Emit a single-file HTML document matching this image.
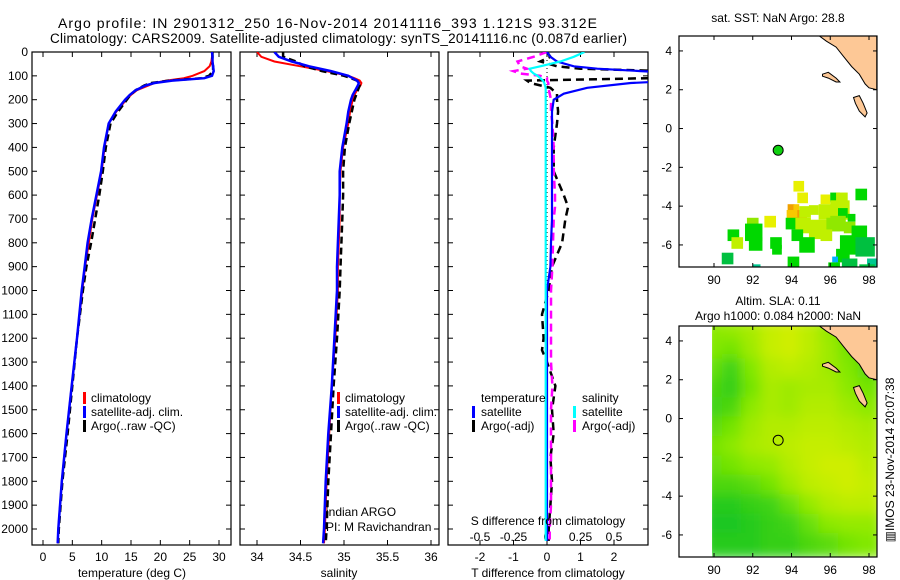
<!DOCTYPE html>
<html><head><meta charset="utf-8"><style>
html,body{margin:0;padding:0;background:#fff;width:900px;height:580px;overflow:hidden}
svg{display:block;font-family:"Liberation Sans",sans-serif}
text{font-size:12px;fill:#000}
</style></head><body>
<svg id="fig" width="900" height="580" viewBox="0 0 900 580">
<text x="58" y="28" style="font-size:14px" textLength="539">Argo profile: IN 2901312_250 16-Nov-2014 20141116_393 1.121S 93.312E</text>
<text x="50" y="43" style="font-size:13.5px" textLength="577">Climatology: CARS2009. Satellite-adjusted climatology: synTS_20141116.nc (0.087d earlier)</text>
</svg>
<script>
// ---------- data ----------
const depthTS = [0,20,40,60,80,100,110,120,130,140,160,180,200,250,300,400,500,600,700,800,900,1000,1200,1400,1600,1800,2000,2060];
const tempClim = [28.8,28.8,28.7,28.4,27.5,25.5,24,21,19,18,16,15,14.2,12.5,11.2,10.5,10,9.2,8.4,7.8,7.2,6.7,5.8,4.9,4.0,3.2,2.6,2.5];
const tempSat  = [28.8,28.9,28.9,29.0,29.1,28.8,27.5,22,19,17.5,15.8,14.8,14.0,12.4,11.2,10.4,9.9,9.1,8.3,7.6,7.1,6.6,5.8,4.9,4.0,3.2,2.6,2.5];
const tempArgo = [28.9,28.9,28.8,29.0,29.0,28.3,27.0,21.5,18.5,17.3,15.8,14.9,14.3,12.8,11.5,10.7,10.2,9.6,8.9,8.2,7.4,6.8,5.8,5.0,4.2,3.3,2.7,2.6];
const salClim = [34.0,34.05,34.2,34.5,34.8,35.05,35.12,35.18,35.2,35.19,35.15,35.12,35.1,35.07,35.05,34.99,34.96,34.95,34.95,34.94,34.93,34.93,34.9,34.86,34.83,34.8,34.78,34.77];
const salSat  = [34.2,34.25,34.4,34.6,34.85,35.05,35.1,35.15,35.17,35.16,35.13,35.1,35.08,35.05,35.03,34.98,34.95,34.95,34.94,34.93,34.92,34.92,34.89,34.86,34.82,34.79,34.77,34.76];
const salArgo = [34.3,34.3,34.45,34.55,34.75,35.0,35.08,35.15,35.18,35.18,35.16,35.14,35.12,35.09,35.06,35.01,34.99,34.99,34.98,34.97,34.96,34.95,34.92,34.88,34.85,34.82,34.8,34.79];

const depthD = [0,20,40,60,70,80,90,100,110,120,130,150,175,200,250,300,400,500,600,650,700,800,900,1000,1100,1200,1250,1300,1400,1500,1600,1700,1800,1900,2000,2050];
const dTsat  = [0,0.1,0.3,0.8,1.5,2.8,4,5,5,4,2.5,1.2,0.5,0.2,0.15,0.15,0.15,0.15,0.15,0.15,0.15,0.12,0.1,0,0,0,0,0,0,0,0,0,0,0,0,0];
const dTargo = [0,0.1,-0.2,0.3,1,3.5,5,5,3,-0.6,-0.5,0.1,0.3,0.3,0.33,0.3,0.2,0.2,0.5,0.63,0.55,0.45,0.15,0.05,-0.15,-0.1,-0.15,0,0.25,0.15,0.2,0.1,0.15,0.1,0.05,0.05];
const dSsat  = [0.28,0.2,0.1,-0.05,-0.13,-0.12,-0.1,-0.07,-0.05,-0.03,-0.02,-0.01,-0.01,-0.01,-0.01,-0.01,-0.01,-0.01,-0.01,-0.01,-0.01,-0.01,-0.01,-0.01,-0.01,-0.01,-0.01,-0.01,-0.01,-0.01,-0.01,-0.01,-0.01,-0.01,-0.01,-0.01];
const dSargo = [0,-0.1,-0.22,-0.2,-0.15,-0.25,-0.2,-0.05,0,0,0.01,0.01,0.02,0.03,0.03,0.04,0.05,0.05,0.06,0.06,0.05,0.045,0.04,0.03,0.03,0.03,0.03,0.03,0.04,0.03,0.03,0.03,0.03,0.03,0.02,0.02];

const depthTicks = [0,100,200,300,400,500,600,700,800,900,1000,1100,1200,1300,1400,1500,1600,1700,1800,1900,2000];
const tempTicks = [0,5,10,15,20,25,30];
const salTicks = [34,34.5,35,35.5,36];
const salTickLabels = ["34","34.5","35","35.5","36"];
const dTTicks = [-2,-1,0,1,2];
const dSTicks = [-0.5,-0.25,0,0.25,0.5];
const dSTickLabels = ["-0.5","-0.25","0","0.25","0.5"];
const lonTicks = [90,92,94,96,98];
const latTicks = [4,2,0,-2,-4,-6];

const argoLon = 93.312, argoLat = -1.121;
const sstLon  = [94.1,94.3,93.8,94.1,93.75,94.3,94.4,94.9,95.5,95.4,96.0,96.3,96.0,96.4,96.0,96.9,97.3,93.7,94.2,94.9,95.8,92.6,91.7,91.6,90.7,90.9,91.8,92.9,93.0,94.0,94.4,95.5,96.7,97.1,96.5,97.3,96.3,96.1,96.6,97.9,97.5,90.4,93.8,92.0,95.9];
const sstLat  = [-2.7,-3.3,-3.9,-3.9,-4.2,-4.2,-4.0,-3.95,-3.4,-3.9,-3.3,-3.3,-3.7,-4.1,-4.5,-4.4,-3.1,-4.6,-4.6,-4.7,-4.6,-4.5,-4.6,-4.9,-5.2,-5.6,-5.6,-5.6,-6.0,-5.2,-5.6,-5.2,-4.8,-5.0,-5.5,-5.6,-6.2,-6.6,-6.7,-6.7,-7.0,-6.4,-6.6,-7.0,-6.9];
const sstSize = [0.55,0.55,0.35,0.3,0.6,0.5,0.6,0.5,0.5,0.8,0.5,0.6,1.0,0.5,0.8,0.4,0.6,0.6,0.8,1.0,0.7,0.6,0.6,0.9,0.6,0.6,0.7,0.6,0.5,0.6,0.8,0.6,0.6,0.8,1.0,1.0,0.7,0.3,0.8,0.5,0.8,0.6,0.6,0.4,0.6];
const sstCls  = [2,2,0,1,1,0,3,3,2,3,5,3,3,5,4,5,5,5,3,3,4,2,4,5,5,3,5,5,5,5,5,3,4,5,5,6,5,8,6,7,6,6,5,7,5];
const slaLats = [4.5,3.5,2.5,1.5,0.5,-0.5,-1.5,-2.5,-3.5,-4.5,-5.5,-6.5];
const slaLons = [90,91,92,93,94,95,96,97,98];
const slaRows = [
[.55,.6,.7,.85,.9,.8,.6,.4,.3],
[.5,.45,.65,.85,.9,.8,.65,.45,.3],
[.4,.25,.5,.75,.8,.75,.65,.5,.35],
[.3,.2,.45,.7,.65,.7,.7,.55,.45],
[.25,.3,.55,.7,.65,.75,.75,.65,.55],
[.35,.45,.65,.75,.75,.8,.8,.75,.7],
[.45,.55,.7,.75,.8,.85,.85,.8,.75],
[.4,.45,.55,.6,.75,.85,.9,.9,.8],
[.3,.3,.35,.45,.65,.8,.85,.9,.85],
[.15,.15,.2,.25,.4,.6,.75,.8,.8],
[.1,.1,.15,.2,.25,.4,.55,.6,.6],
[.15,.15,.15,.2,.2,.3,.35,.45,.5]];
const coastLon = [95.4,95.8,96.3,96.7,97.1,97.5,97.8,98.0,98.4,98.4];
const coastLat = [4.8,4.5,4.2,3.7,3.2,2.8,2.3,2.1,2.0,4.8];
const isl1Lon = [95.6,95.9,96.3,96.5,96.3,95.9,95.6];
const isl1Lat = [2.8,2.9,2.6,2.4,2.4,2.6,2.7];
const isl2Lon = [97.2,97.5,97.7,97.9,97.8,97.5,97.3];
const isl2Lat = [1.6,1.7,1.3,0.8,0.6,0.9,1.3];

// ---------- helpers ----------
const NS='http://www.w3.org/2000/svg';
const svg=document.getElementById('fig');
function mk(tag,attrs,parent){const e=document.createElementNS(NS,tag);for(const k in attrs)e.setAttribute(k,attrs[k]);(parent||svg).appendChild(e);return e;}
function txt(s,x,y,anchor,size,parent){const t=mk('text',{x:x,y:y,'text-anchor':anchor||'start'},parent);if(size)t.style.fontSize=size+'px';t.textContent=s;return t;}

const PT=52, PB=545;
const yD=d=>PT+(d/2000)*(529-PT);
const P1={l:32,r:231}, P2={l:240,r:439}, P3={l:448,r:648};
const xT=v=>43+v*(219-43)/30;
const xS=v=>257+(v-34)*(431-257)/2;
const xdT=v=>547+v*33.5;
const xdS=v=>547+v*134;

const defs=mk('defs',{});
[[P1,'c1'],[P2,'c2'],[P3,'c3']].forEach(([p,id])=>{const c=mk('clipPath',{id:id},defs);mk('rect',{x:p.l,y:PT,width:p.r-p.l,height:PB-PT},c);});

function line(xs,ys,fx,color,w,dash,clip,name){
  let d='';for(let i=0;i<xs.length;i++){d+=(i?'L':'M')+fx(xs[i]).toFixed(1)+','+yD(ys[i]).toFixed(1);}
  const p=mk('path',{d:d,fill:'none',stroke:color,'stroke-width':w,'clip-path':'url(#'+clip+')'});
  if(dash)p.setAttribute('stroke-dasharray',dash);
  
  
}
function frame(p,name){
  const r=mk('rect',{x:p.l,y:PT,width:p.r-p.l,height:PB-PT,fill:'none',stroke:'#000','stroke-width':1.2});
  
  
  depthTicks.forEach(d=>{const y=yD(d);mk('line',{x1:p.l,x2:p.l+5,y1:y,y2:y,stroke:'#000'});mk('line',{x1:p.r,x2:p.r-5,y1:y,y2:y,stroke:'#000'});});
}
function xticks(p,vals,fx,labels,name){
  vals.forEach((v,i)=>{const x=fx(v);mk('line',{x1:x,x2:x,y1:PB,y2:PB-5,stroke:'#000'});mk('line',{x1:x,x2:x,y1:PT,y2:PT+5,stroke:'#000'});
    if(labels){const t=txt(labels[i],x,561,'middle');
      }});
}

// ---------- panel 1 ----------
frame(P1,'temperature-panel');
depthTicks.forEach(d=>{const t=txt(String(d),28,yD(d)+4,'end');
  
  });
xticks(P1,tempTicks,xT,tempTicks.map(String),'temperature-tick-label');
line(tempClim,depthTS,xT,'#f00',2,null,'c1','temperature-climatology-line');
line(tempArgo,depthTS,xT,'#000',2.5,'7,4','c1','temperature-argo-line');
line(tempSat,depthTS,xT,'#00f',2.5,null,'c1','temperature-satellite-line');
txt('temperature (deg C)',132,577,'middle');

// ---------- panel 2 ----------
frame(P2,'salinity-panel');
xticks(P2,salTicks,xS,salTickLabels,'salinity-tick-label');
line(salClim,depthTS,xS,'#f00',2,null,'c2','salinity-climatology-line');
line(salArgo,depthTS,xS,'#000',2.5,'7,4','c2','salinity-argo-line');
line(salSat,depthTS,xS,'#00f',2.5,null,'c2','salinity-satellite-line');
txt('salinity',339,577,'middle');

// ---------- panel 3 ----------
frame(P3,'difference-panel');
xticks(P3,dTTicks,xdT,dTTicks.map(String),'t-difference-tick-label');
dSTicks.forEach((v,i)=>{const t=txt(dSTickLabels[i],xdS(v),541,'middle');});
mk('line',{x1:547,x2:547,y1:PT,y2:PB,stroke:'#000','stroke-dasharray':'1,3'});
line(dTargo,depthD,xdT,'#000',2.5,'8,5','c3','t-diff-argo-line');
line(dSargo,depthD,xdS,'#f0f',2.5,'8,5','c3','s-diff-argo-line');
line(dTsat,depthD,xdT,'#00f',2.2,null,'c3','t-diff-satellite-line');
line(dSsat,depthD,xdS,'#0ff',2.2,null,'c3','s-diff-satellite-line');
txt('S difference from climatology',548,525,'middle');
txt('T difference from climatology',548,577,'middle');

function legBar(x,y,c){mk('rect',{x:x,y:y-10,width:3,height:12,fill:c});}
[['climatology','#f00'],['satellite-adj. clim.','#00f'],['Argo(..raw -QC)','#000']].forEach((e,i)=>{
  legBar(83,402+i*14,e[1]);txt(e[0],91,402+i*14);
  legBar(337,402+i*14,e[1]);txt(e[0],345,402+i*14);
});
txt('temperature',481,402);txt('salinity',582,402);
legBar(472,416,'#00f');txt('satellite',481,416);legBar(472,430,'#000');txt('Argo(-adj)',481,430);
legBar(573,416,'#0ff');txt('satellite',582,416);legBar(573,430,'#f0f');txt('Argo(-adj)',582,430);
txt('indian ARGO',326,516);txt('PI: M Ravichandran',326,531);

// ---------- maps ----------
const MX=lon=>714+(lon-90)*(869-714)/8;
function makeMap(top,bottom,id,name){
  const yL=lat=>top+ (4.77-lat)*19.4;
  const c=mk('clipPath',{id:id},defs);mk('rect',{x:679,y:top,width:198,height:bottom-top},c);
  const g=mk('g',{'clip-path':'url(#'+id+')'});
  
  
  return {g:g,yL:yL,top:top,bottom:bottom};
}
function mapFrame(m,name){
  const r=mk('rect',{x:679,y:m.top,width:198,height:m.bottom-m.top,fill:'none',stroke:'#000','stroke-width':1.2});
  
  
  lonTicks.forEach(v=>{const x=MX(v);mk('line',{x1:x,x2:x,y1:m.top,y2:m.top+4,stroke:'#000'});mk('line',{x1:x,x2:x,y1:m.bottom,y2:m.bottom-4,stroke:'#000'});
    txt(String(v),x,m.bottom+17,'middle');});
  latTicks.forEach(v=>{const y=m.yL(v);mk('line',{x1:679,x2:683,y1:y,y2:y,stroke:'#000'});mk('line',{x1:877,x2:873,y1:y,y2:y,stroke:'#000'});
    txt(String(v),672,y+4,'end');});
}
function land(m){
  const poly=(lons,lats)=>lons.map((l,i)=>MX(l).toFixed(1)+','+m.yL(lats[i]).toFixed(1)).join(' ');
  [[coastLon,coastLat],[isl1Lon,isl1Lat],[isl2Lon,isl2Lat]].forEach(a=>{const p=mk('polygon',{points:poly(a[0],a[1]),fill:'#fdc896',stroke:'#000','stroke-width':1},m.g);
    
    });
}
const sstColors=['#f0a000','#f8c800','#e8f000','#c0f000','#90e800','#00d800','#00c040','#00c890','#00b0ff'];

const m1=makeMap(36,267,'cm1','sst-map');
sstLon.forEach((lon,i)=>{const x=MX(lon),y=m1.yL(sstLat[i]),s=sstSize[i]*19.4;
  const r=mk('rect',{x:x,y:y,width:s,height:s,fill:sstColors[sstCls[i]]},m1.g);
  
  });
land(m1);
const dot=mk('circle',{cx:MX(argoLon),cy:m1.yL(argoLat),r:5,fill:'#10d010',stroke:'#000','stroke-width':1});


mapFrame(m1,'sst-map-frame');
txt('sat. SST: NaN Argo: 28.8',778,22,'middle');

const m2=makeMap(326,557,'cm2','sla-map');
const fl=mk('filter',{id:'blur',x:'-10%',y:'-10%',width:'120%',height:'120%'},defs);mk('feGaussianBlur',{stdDeviation:6},fl);
const cmap=v=>{const a=[0,190,40],b=[130,232,0],c=[226,240,0];let f,p,q;if(v<0.5){f=v/0.5;p=a;q=b;}else{f=(v-0.5)/0.5;p=b;q=c;}return 'rgb('+p.map((x,i)=>Math.round(x+(q[i]-x)*f)).join(',')+')';};
const c2=mk('clipPath',{id:'slaclip'},defs);mk('rect',{x:MX(89.9),y:326,width:877-MX(89.9),height:231},c2);
const gOuter=mk('g',{'clip-path':'url(#slaclip)'},m2.g);
const gb=mk('g',{filter:'url(#blur)'},gOuter);
slaRows.forEach((row,ri)=>row.forEach((v,ci)=>{
  const x=MX(slaLons[ci]-0.6),y=m2.yL(slaLats[ri]+0.6);
  const r=mk('rect',{x:x,y:y,width:19.4*1.2+2,height:19.4*1.2+2,fill:cmap(v)},gb);
  
  }));
land(m2);
mk('circle',{cx:MX(argoLon),cy:m2.yL(argoLat),r:5,fill:'none',stroke:'#000','stroke-width':1});
mapFrame(m2,'sla-map-frame');
txt('Altim. SLA: 0.11',778,305,'middle');
txt('Argo h1000: 0.084 h2000: NaN',778,320,'middle');
const stamp=txt('\u25a5IMOS 23-Nov-2014 20:07:38',0,0,'middle');
stamp.setAttribute('transform','translate(894,460) rotate(-90)');


</script>
</body></html>
